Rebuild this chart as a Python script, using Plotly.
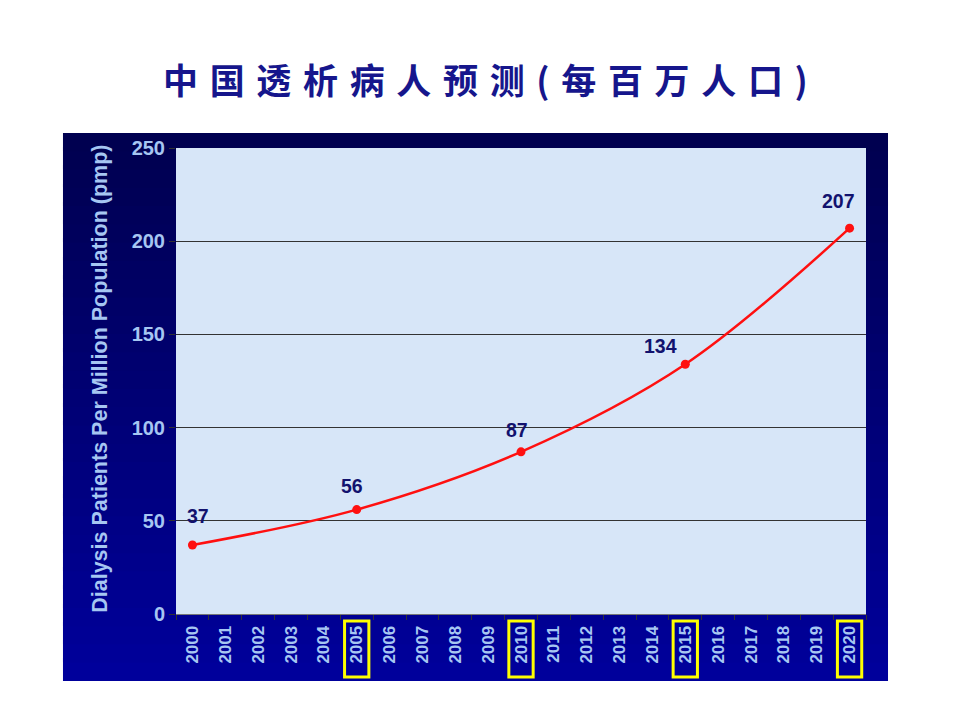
import plotly.graph_objects as go

# Daten
years = [str(y) for y in range(2000, 2021)]
point_years = ["2000", "2005", "2010", "2015", "2020"]
point_values = [37, 56, 87, 134, 207]
highlight_years = ["2005", "2010", "2015", "2020"]
y_ticks = [0, 50, 100, 150, 200, 250]

title_text = "\u2004".join("中国透析病人预测(每百万人口)")
y_title = "Dialysis Patients Per Million Population (pmp)"

fig = go.Figure()

fig.add_trace(go.Scatter(
    x=point_years,
    y=point_values,
    mode="lines+markers",
    line=dict(color="#ff1010", width=2.5, shape="spline", smoothing=1.0),
    marker=dict(color="#ff1010", size=9),
    showlegend=False,
    hoverinfo="x+y",
))

# Werte-Beschriftungen (Versatz in Pixel)
label_shift = {"2000": (6, 29), "2005": (-5, 24), "2010": (-4, 22), "2015": (-25, 18), "2020": (-11, 27)}
for yr, val in zip(point_years, point_values):
    dx, dy = label_shift[yr]
    fig.add_annotation(x=years.index(yr), y=val, text=f"<b>{val}</b>", showarrow=False,
                       xshift=dx, yshift=dy,
                       font=dict(size=19.5, color="#12126e", family="Liberation Sans, Arial"))

# dunkler Hintergrund (Verlauf in Streifen)
n_bands = 30
y_lo, y_hi = -0.1438, 1.0322
for i in range(n_bands):
    t = i / (n_bands - 1)
    b = int(155 - 75 * t)
    fig.add_shape(type="rect", xref="paper", yref="paper", layer="below",
                  x0=-0.1638, x1=1.0319,
                  y0=y_lo + (y_hi - y_lo) * i / n_bands,
                  y1=min(y_hi, y_lo + (y_hi - y_lo) * (i + 1) / n_bands + 0.01),
                  fillcolor=f"rgb(0,0,{b})", line=dict(width=0))

# heller Plotbereich
fig.add_shape(type="rect", xref="paper", yref="paper", layer="below",
              x0=0, x1=1, y0=0, y1=1, fillcolor="#d7e6f8", line=dict(width=0))

# gelbe Rahmen um die Jahreszahlen
for yr in highlight_years:
    idx = years.index(yr)
    fig.add_shape(type="rect", xref="x", yref="paper",
                  x0=idx - 0.37, x1=idx + 0.37, y0=-0.135, y1=-0.015,
                  line=dict(color="#ffff00", width=3), fillcolor="rgba(0,0,0,0)")

fig.add_annotation(text=f"<b>{title_text}</b>", xref="paper", yref="paper",
                   x=0.449, y=1.150, xanchor="center", yanchor="middle", showarrow=False,
                   font=dict(size=35, color="#16168c", family="Noto Sans CJK SC"))

fig.add_annotation(text=f"<b>{y_title}</b>", xref="paper", yref="paper",
                   x=-0.110, y=0.505, xanchor="center", yanchor="middle",
                   showarrow=False, textangle=-90,
                   font=dict(size=21.5, color="#a6c6f2", family="Liberation Sans, Arial"))

fig.update_layout(
    width=960, height=720,
    margin=dict(l=168, r=102, t=140, b=114),
    paper_bgcolor="white",
    plot_bgcolor="rgba(0,0,0,0)",
    xaxis=dict(
        type="category", categoryorder="array", categoryarray=years,
        tickvals=years, range=[-0.5, 20.5], tickangle=-90, tickson="boundaries",
        showgrid=False, zeroline=False, ticklabelstandoff=4,
        ticks="outside", ticklen=5, tickcolor="#333333",
        showline=True, linecolor="#777777", linewidth=1,
        tickfont=dict(size=17, color="#a6c6f2", family="Liberation Sans, Arial", weight="bold"),
    ),
    yaxis=dict(
        range=[0, 250], tickvals=y_ticks,
        showgrid=True, gridcolor="#333333", gridwidth=1,
        zeroline=False, ticks="outside", ticklen=6, tickcolor="#333333",
        showline=False,
        tickfont=dict(size=20, color="#a6c6f2", family="Liberation Sans, Arial", weight="bold"),
    ),
)

fig.write_html("out.html")
